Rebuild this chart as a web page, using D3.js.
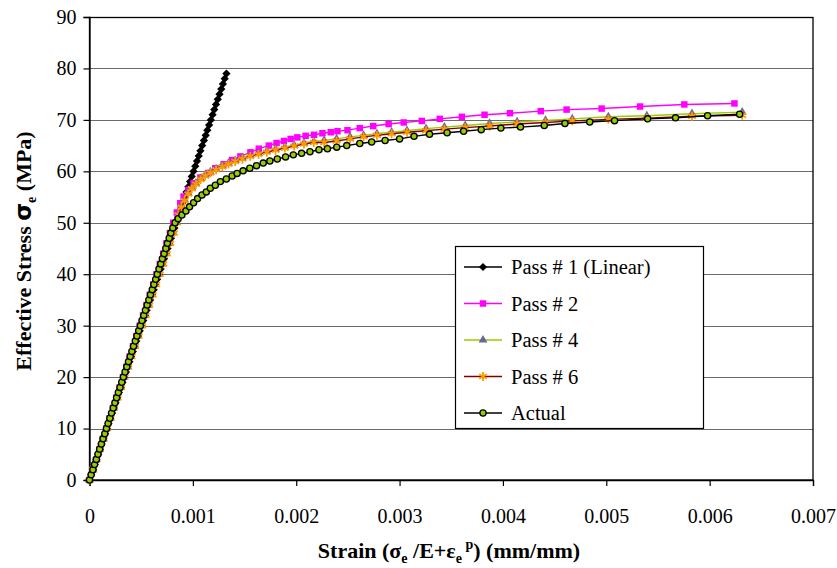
<!DOCTYPE html>
<html>
<head>
<meta charset="utf-8">
<script src="https://cdn.jsdelivr.net/npm/d3@7.9.0/dist/d3.min.js"></script>
<style>
  body { margin: 0; background: #fff; }
  text { font-family: "Liberation Serif", "Times New Roman", serif; }
</style>
</head>
<body>
<svg id="chart" width="837" height="568"></svg>
<script>
// strain is given in microstrain (1e-6 mm/mm), stress in MPa
const pass1 = [
  [0, 0], [17, 1], [34, 2], [50, 3], [67, 4], [84, 5], [101, 6], [117, 7], [134, 8], [151, 9],
  [168, 10], [184, 11], [201, 12], [218, 13], [235, 14], [252, 15], [268, 16], [285, 17], [302, 18], [319, 19],
  [335, 20], [352, 21], [369, 22], [386, 23], [402, 24], [419, 25], [436, 26], [453, 27], [470, 28], [486, 29],
  [503, 30], [520, 31], [537, 32], [553, 33], [570, 34], [587, 35], [604, 36], [621, 37], [637, 38], [654, 39],
  [671, 40], [688, 41], [704, 42], [721, 43], [738, 44], [755, 45], [771, 46], [788, 47], [805, 48], [822, 49],
  [839, 50], [855, 51], [872, 52], [889, 53], [906, 54], [922, 55], [939, 56], [956, 57], [973, 58], [989, 59],
  [1006, 60], [1023, 61], [1040, 62], [1057, 63], [1073, 64], [1090, 65], [1107, 66], [1124, 67], [1140, 68], [1157, 69],
  [1174, 70], [1191, 71], [1207, 72], [1224, 73], [1241, 74], [1258, 75], [1275, 76], [1291, 77], [1308, 78], [1325, 79]
];

const pass2 = [
  [0, 0], [32, 2], [65, 4], [97, 6], [130, 8], [162, 10], [194, 12], [227, 14], [259, 16], [292, 18],
  [324, 20], [356, 22], [389, 24], [421, 26], [454, 28], [486, 30], [518, 32], [551, 34], [583, 36], [616, 38],
  [648, 40], [680, 42], [713, 44], [745, 46], [778, 48], [810, 50], [845, 52], [878, 53.8], [910, 55.1], [958, 56.4],
  [1007, 57.7], [1072, 58.8], [1153, 59.7], [1217, 60.6], [1298, 61.4], [1380, 62.2], [1460, 62.9], [1557, 63.7],
  [1638, 64.4], [1735, 65.0], [1810, 65.5], [1881, 65.9], [1946, 66.3], [2011, 66.6], [2091, 66.9], [2172, 67.1],
  [2254, 67.4], [2334, 67.6], [2399, 67.8], [2496, 68.0], [2615, 68.4], [2745, 68.8], [2894, 69.2], [3040, 69.5],
  [3215, 69.8], [3389, 70.2], [3603, 70.6], [3822, 71.0], [4068, 71.3], [4366, 71.7], [4616, 72.0], [4955, 72.2],
  [5327, 72.6], [5755, 73.0], [6240, 73.2]
];

const pass4 = [
  [0, 0], [33, 2], [66, 4], [100, 6], [133, 8], [166, 10], [199, 12], [232, 14], [266, 16], [299, 18],
  [332, 20], [365, 22], [398, 24], [432, 26], [465, 28], [498, 30], [531, 32], [564, 34], [598, 36], [631, 38],
  [664, 40], [697, 42], [730, 44], [764, 46], [797, 48], [830, 50], [860, 51.6], [890, 53.2], [920, 54.5], [955, 55.8],
  [990, 56.8], [1030, 57.7], [1075, 58.6], [1120, 59.3], [1170, 59.9], [1225, 60.5], [1285, 61.1], [1345, 61.6],
  [1410, 62.1], [1480, 62.6], [1555, 63.1], [1635, 63.5], [1715, 63.9], [1800, 64.3], [1890, 64.7], [1980, 65.1],
  [2075, 65.5], [2170, 65.8], [2270, 66.0], [2390, 66.3], [2521, 66.7], [2652, 67.0], [2781, 67.3], [2923, 67.6],
  [3072, 67.9], [3256, 68.3], [3434, 68.6], [3635, 68.9], [3871, 69.3], [4137, 69.6], [4412, 69.9], [4671, 70.2],
  [5020, 70.6], [5392, 70.8], [5829, 71.2], [6315, 71.5]
];

const pass6 = [
  [0, 0], [34, 2], [68, 4], [102, 6], [136, 8], [170, 10], [204, 12], [238, 14], [272, 16], [306, 18],
  [340, 20], [374, 22], [408, 24], [442, 26], [476, 28], [510, 30], [544, 32], [578, 34], [612, 36], [646, 38],
  [680, 40], [714, 42], [748, 44], [782, 46], [816, 48], [845, 50], [860, 51.5], [890, 53.0], [920, 54.3], [955, 55.6],
  [990, 56.6], [1030, 57.5], [1075, 58.4], [1120, 59.1], [1170, 59.7], [1225, 60.3], [1285, 60.9], [1345, 61.4],
  [1410, 61.9], [1480, 62.4], [1555, 62.9], [1635, 63.3], [1715, 63.7], [1800, 64.1], [1890, 64.5], [1980, 64.9],
  [2075, 65.3], [2170, 65.6], [2270, 65.6], [2390, 65.9], [2521, 66.3], [2652, 66.7], [2781, 67.0], [2923, 67.3],
  [3072, 67.6], [3256, 67.9], [3434, 68.2], [3635, 68.5], [3871, 68.8], [4137, 69.2], [4412, 69.5], [4671, 69.8],
  [5020, 70.1], [5392, 70.35], [5829, 70.7], [6315, 70.9]
];

const actual = [
  [0, 0], [16, 1], [33, 2], [49, 3], [66, 4], [82, 5], [98, 6], [115, 7], [131, 8], [148, 9],
  [164, 10], [180, 11], [197, 12], [213, 13], [230, 14], [246, 15], [262, 16], [279, 17], [295, 18], [312, 19],
  [328, 20], [344, 21], [361, 22], [377, 23], [394, 24], [410, 25], [426, 26], [443, 27], [459, 28], [476, 29],
  [492, 30], [508, 31], [525, 32], [541, 33], [558, 34], [574, 35], [590, 36], [607, 37], [623, 38], [640, 39],
  [656, 40], [672, 41], [689, 42], [705, 43], [722, 44], [738, 45], [754, 46], [771, 47], [787, 48], [806, 49],
  [828, 50], [858, 50.8], [894, 51.5], [933, 52.3], [968, 53.1], [1007, 53.9], [1046, 54.7], [1088, 55.4],
  [1130, 56.0], [1169, 56.7], [1217, 57.3], [1266, 58.0], [1324, 58.5], [1380, 59.1], [1428, 59.6], [1486, 60.1],
  [1551, 60.6], [1616, 61.1], [1681, 61.6], [1745, 62.0], [1817, 62.4], [1897, 62.8], [1972, 63.2], [2052, 63.5],
  [2133, 63.8], [2220, 64.2], [2302, 64.4], [2392, 64.7], [2489, 65.0], [2615, 65.4], [2730, 65.7], [2860, 66.0],
  [3000, 66.3], [3140, 66.8], [3290, 67.2], [3460, 67.5], [3620, 67.8], [3790, 68.1], [3980, 68.4], [4170, 68.6],
  [4400, 68.9], [4600, 69.3], [4840, 69.6], [5080, 69.85], [5400, 70.2], [5670, 70.4], [5980, 70.8], [6290, 71.1]
];

const xTicks = [0, 0.001, 0.002, 0.003, 0.004, 0.005, 0.006, 0.007];
const yTicks = [0, 10, 20, 30, 40, 50, 60, 70, 80, 90];

// diamond = square turned 45 degrees (Excel style)
const series = [
  { name: "Pass # 1 (Linear)", data: pass1, line: "#000000", symbol: d3.symbolSquare, rot: 45, size: 34, fill: "#000000", stroke: "none" },
  { name: "Pass # 2", data: pass2, line: "#ff00ff", symbol: d3.symbolSquare, rot: 0, size: 42, fill: "#ff00ff", stroke: "none" },
  { name: "Pass # 4", data: pass4, line: "#99cc00", symbol: d3.symbolTriangle, rot: 0, size: 34, fill: "#666699", stroke: "none" },
  { name: "Pass # 6", data: pass6, line: "#800000", symbol: d3.symbolAsterisk, rot: 0, size: 55, fill: "none", stroke: "#ff9900" },
  { name: "Actual", data: actual, line: "#000000", symbol: d3.symbolCircle, rot: 0, size: 30, fill: "#99cc00", stroke: "#000000" }
];

const svg = d3.select("#chart");

const x = d3.scaleLinear().domain([0, 0.007]).range([89.5, 813]);
const y = d3.scaleLinear().domain([0, 90]).range([480, 17]);

// gridlines
svg.append("g")
  .selectAll("line")
  .data(yTicks.filter(d => d > 0))
  .join("line")
  .attr("x1", x(0))
  .attr("x2", x(0.007))
  .attr("y1", d => Math.round(y(d)) + 0.5)
  .attr("y2", d => Math.round(y(d)) + 0.5)
  .attr("stroke", "#6b6b6b")
  .attr("stroke-width", 1);

// plot border
svg.append("rect")
  .attr("x", x(0))
  .attr("y", Math.round(y(90)) + 0.5)
  .attr("width", x(0.007) - x(0))
  .attr("height", y(0) - Math.round(y(90)) - 0.5)
  .attr("fill", "none")
  .attr("stroke", "#000")
  .attr("stroke-width", 1.3);

const xAxis = svg.append("g")
  .attr("transform", `translate(0,${y(0)})`)
  .call(d3.axisBottom(x).tickValues(xTicks).tickSize(6).tickPadding(23)
    .tickFormat(d => d === 0 ? "0" : d3.format(".3f")(d)));

const yAxis = svg.append("g")
  .attr("transform", `translate(${x(0)},0)`)
  .call(d3.axisLeft(y).tickValues(yTicks).tickSize(6).tickPadding(7));

[xAxis, yAxis].forEach(g => {
  g.selectAll("text")
    .attr("fill", "#000")
    .style("font-family", '"Liberation Serif", "Times New Roman", serif')
    .style("font-size", "20px");
  g.selectAll("line").attr("stroke", "#000").attr("stroke-width", 1.2);
  g.select(".domain").attr("stroke", "#000").attr("stroke-width", 1.3);
});

const lineGen = d3.line()
  .x(d => x(d[0] * 1e-6))
  .y(d => y(d[1]));

const plot = svg.append("g");

series.forEach(s => {
  plot.append("path")
    .datum(s.data)
    .attr("d", lineGen)
    .attr("fill", "none")
    .attr("stroke", s.line)
    .attr("stroke-width", 1.4);

  plot.append("g")
    .selectAll("path")
    .data(s.data)
    .join("path")
    .attr("transform", d => `translate(${x(d[0] * 1e-6)},${y(d[1])}) rotate(${s.rot})`)
    .attr("d", d3.symbol().type(s.symbol).size(s.size))
    .attr("fill", s.fill)
    .attr("stroke", s.stroke)
    .attr("stroke-width", s.symbol === d3.symbolAsterisk ? 1.8 : 1.3);
});

// legend
const legend = svg.append("g").attr("transform", "translate(455,246)");

legend.append("rect")
  .attr("x", 0.5)
  .attr("y", 0.5)
  .attr("width", 248)
  .attr("height", 182)
  .attr("fill", "#fff")
  .attr("stroke", "#000")
  .attr("stroke-width", 1.2);

const rows = legend.selectAll(".row")
  .data(series)
  .join("g")
  .attr("class", "row")
  .attr("transform", (d, i) => `translate(0,${21 + i * 36.5})`);

rows.append("line")
  .attr("x1", 9)
  .attr("x2", 47)
  .attr("stroke", d => d.line)
  .attr("stroke-width", 1.4);

rows.append("path")
  .attr("transform", d => `translate(28,0) rotate(${d.rot})`)
  .attr("d", d => d3.symbol().type(d.symbol).size(d.size)())
  .attr("fill", d => d.fill)
  .attr("stroke", d => d.stroke)
  .attr("stroke-width", d => d.symbol === d3.symbolAsterisk ? 1.8 : 1.3);

rows.append("text")
  .attr("x", 56)
  .attr("y", 0)
  .attr("dy", "0.35em")
  .style("font-size", "20.5px")
  .attr("fill", "#000")
  .text(d => d.name);

// axis titles
const xTitle = svg.append("text")
  .attr("x", 449)
  .attr("y", 558)
  .attr("text-anchor", "middle")
  .style("font-size", "22px")
  .style("font-weight", "bold");
xTitle.append("tspan").text("Strain (");
xTitle.append("tspan").text("σ");
xTitle.append("tspan").attr("dy", 5).style("font-size", "14px").text("e");
xTitle.append("tspan").attr("dy", -5).text(" /E+");
xTitle.append("tspan").text("ε");
xTitle.append("tspan").attr("dy", 5).style("font-size", "14px").text("e");
xTitle.append("tspan").attr("dy", -14).style("font-size", "14px").text(" p");
xTitle.append("tspan").attr("dy", 9).text(") (mm/mm)");

const yTitle = svg.append("text")
  .attr("transform", "translate(31,251) rotate(-90)")
  .attr("text-anchor", "middle")
  .style("font-size", "22px")
  .style("font-weight", "bold");
yTitle.append("tspan").text("Effective Stress ");
yTitle.append("tspan").style("font-family", '"DejaVu Sans", sans-serif').style("font-size", "23px").text("σ");
yTitle.append("tspan").attr("dy", 5).style("font-size", "14px").text("e");
yTitle.append("tspan").attr("dy", -5).text(" (MPa)");
</script>
</body>
</html>
